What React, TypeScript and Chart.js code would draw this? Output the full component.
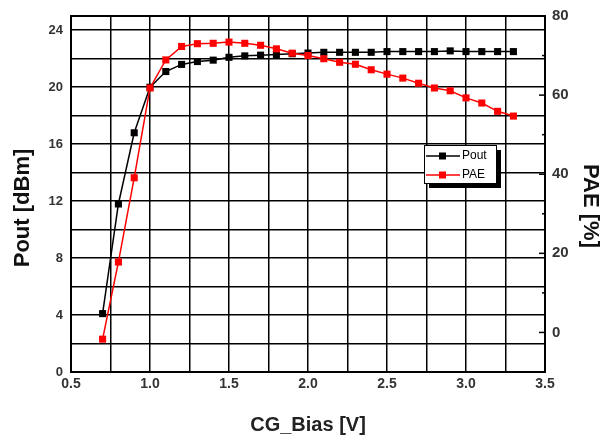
import React, { useEffect, useRef } from "react";
import { Chart, registerables } from "chart.js";

Chart.register(...registerables);

const biasV = [0.7, 0.8, 0.9, 1.0, 1.1, 1.2, 1.3, 1.4, 1.5, 1.6, 1.7, 1.8, 1.9, 2.0, 2.1, 2.2, 2.3, 2.4, 2.5, 2.6, 2.7, 2.8, 2.9, 3.0, 3.1, 3.2, 3.3];
const poutDbm = [4.1, 11.8, 16.8, 20.0, 21.1, 21.6, 21.8, 21.9, 22.1, 22.2, 22.25, 22.3, 22.35, 22.4, 22.45, 22.45, 22.45, 22.45, 22.5, 22.5, 22.5, 22.5, 22.55, 22.5, 22.5, 22.5, 22.5];
const paePct = [-1.7, 17.8, 39.1, 61.8, 68.9, 72.3, 73.0, 73.1, 73.4, 73.1, 72.6, 71.7, 70.6, 70.0, 69.2, 68.3, 67.8, 66.4, 65.3, 64.3, 63.0, 61.8, 61.1, 59.3, 58.0, 55.9, 54.7];

const xRange = [0.5, 3.5];
const poutRange = [0, 25];
const paeRange = [-10, 80];
const legendLabels = ["Pout", "PAE"];
const xTitle = "CG_Bias [V]";
const yTitle = "Pout [dBm]";
const y2Title = "PAE [%]";
const FONT = "'Liberation Sans', Arial, sans-serif";

const frame = {
  id: "frame",
  afterDraw(chart: any) {
    const { ctx, chartArea: a } = chart;
    ctx.save();
    // right axis inward ticks
    const yr = chart.scales.y2;
    ctx.strokeStyle = "#000";
    ctx.lineWidth = 1.5;
    for (let v = paeRange[0]; v <= paeRange[1]; v += 10) {
      if (v === paeRange[0] || v === paeRange[1]) continue;
      const y = yr.getPixelForValue(v);
      const len = v % 20 === 0 ? 6 : 3;
      ctx.beginPath();
      ctx.moveTo(a.right - len, y);
      ctx.lineTo(a.right, y);
      ctx.stroke();
    }
    // border
    ctx.lineWidth = 2;
    ctx.strokeRect(a.left, a.top, a.right - a.left, a.bottom - a.top);
    // legend
    const lx = 424, ly = 145, lw = 72, lh = 38;
    ctx.fillStyle = "#000";
    ctx.fillRect(lx + 5, ly + 5, lw, lh);
    ctx.fillStyle = "#fff";
    ctx.fillRect(lx, ly, lw, lh);
    ctx.lineWidth = 1;
    ctx.strokeRect(lx + 0.5, ly + 0.5, lw, lh);
    const colors = ["#000000", "#ff0000"];
    ctx.font = `12px ${FONT}`;
    ctx.textBaseline = "middle";
    ctx.textAlign = "left";
    legendLabels.forEach((lab, i) => {
      const y = ly + 11 + i * 19;
      ctx.strokeStyle = colors[i];
      ctx.lineWidth = 1.5;
      ctx.beginPath();
      ctx.moveTo(lx + 2, y);
      ctx.lineTo(lx + 36, y);
      ctx.stroke();
      ctx.fillStyle = colors[i];
      ctx.fillRect(lx + 15, y - 3.5, 7, 7);
      ctx.fillStyle = "#000";
      ctx.fillText(lab, lx + 38, y);
    });
    // axis titles
    ctx.textAlign = "center";
    ctx.textBaseline = "middle";
    ctx.fillStyle = "#222";
    ctx.font = `bold 20px ${FONT}`;
    ctx.fillText(xTitle, 308, 425);
    ctx.fillStyle = "#111";
    ctx.font = `bold 22px ${FONT}`;
    ctx.save();
    ctx.translate(23, 208);
    ctx.rotate(-Math.PI / 2);
    ctx.fillText(yTitle, 0, 0);
    ctx.restore();
    ctx.save();
    ctx.translate(590, 206);
    ctx.rotate(Math.PI / 2);
    ctx.fillText(y2Title, 0, 0);
    ctx.restore();
    ctx.restore();
  },
};

export default function App() {
  const ref = useRef<HTMLCanvasElement | null>(null);
  useEffect(() => {
    if (!ref.current) return;
    const chart = new Chart(ref.current, {
      type: "line",
      data: {
        datasets: [
          {
            label: "PAE",
            data: biasV.map((x, i) => ({ x, y: paePct[i] })),
            yAxisID: "y2",
            borderColor: "#ff0000",
            backgroundColor: "#ff0000",
            borderWidth: 1.5,
            pointStyle: "rect",
            pointRadius: 5,
            pointBorderWidth: 0,
            order: 0,
          },
          {
            label: "Pout",
            data: biasV.map((x, i) => ({ x, y: poutDbm[i] })),
            yAxisID: "y",
            borderColor: "#000000",
            backgroundColor: "#000000",
            borderWidth: 1.5,
            pointStyle: "rect",
            pointRadius: 5,
            pointBorderWidth: 0,
            order: 1,
          },
        ],
      },
      options: {
        responsive: false,
        animation: false,
        layout: { padding: { top: 15, right: 0, left: 0, bottom: 0 } },
        plugins: { legend: { display: false }, tooltip: { enabled: false } },
        scales: {
          x: {
            type: "linear",
            min: xRange[0],
            max: xRange[1],
            afterFit: (s: any) => { s.height = 66; },
            ticks: {
              stepSize: 0.25,
              autoSkip: false,
              maxRotation: 0,
              padding: 4,
              color: "#333",
              font: { family: FONT, size: 14, weight: "bold" },
              callback: (v: any) => {
                const n = Number(v);
                return Math.abs(n * 2 - Math.round(n * 2)) < 1e-6 ? n.toFixed(1) : "";
              },
            },
            grid: { color: "#000", lineWidth: 1.5, drawTicks: false },
            border: { display: false },
          },
          y: {
            type: "linear",
            position: "left",
            min: poutRange[0],
            max: poutRange[1],
            afterFit: (s: any) => { s.width = 71; },
            ticks: {
              stepSize: 2,
              includeBounds: false,
              autoSkip: false,
              padding: 8,
              color: "#333",
              font: { family: FONT, size: 13, weight: "bold" },
              callback: (v: any) => (Number(v) % 4 === 0 ? String(v) : ""),
            },
            grid: { color: "#000", lineWidth: 1.5, drawTicks: false },
            border: { display: false },
          },
          y2: {
            type: "linear",
            position: "right",
            min: paeRange[0],
            max: paeRange[1],
            afterFit: (s: any) => { s.width = 70; },
            ticks: {
              stepSize: 10,
              includeBounds: false,
              autoSkip: false,
              padding: 7,
              color: "#333",
              font: { family: FONT, size: 15, weight: "bold" },
              callback: (v: any) => (Number(v) % 20 === 0 && Number(v) >= 0 ? String(v) : ""),
            },
            grid: { display: false, drawTicks: false },
            border: { display: false },
          },
        },
      },
      plugins: [frame],
    } as any);
    return () => chart.destroy();
  }, []);
  return (
    <div style={{ position: "fixed", left: 0, top: 0, width: 615, height: 438, background: "#fff" }}>
      <canvas ref={ref} width={615} height={438} style={{ display: "block" }} />
    </div>
  );
}
